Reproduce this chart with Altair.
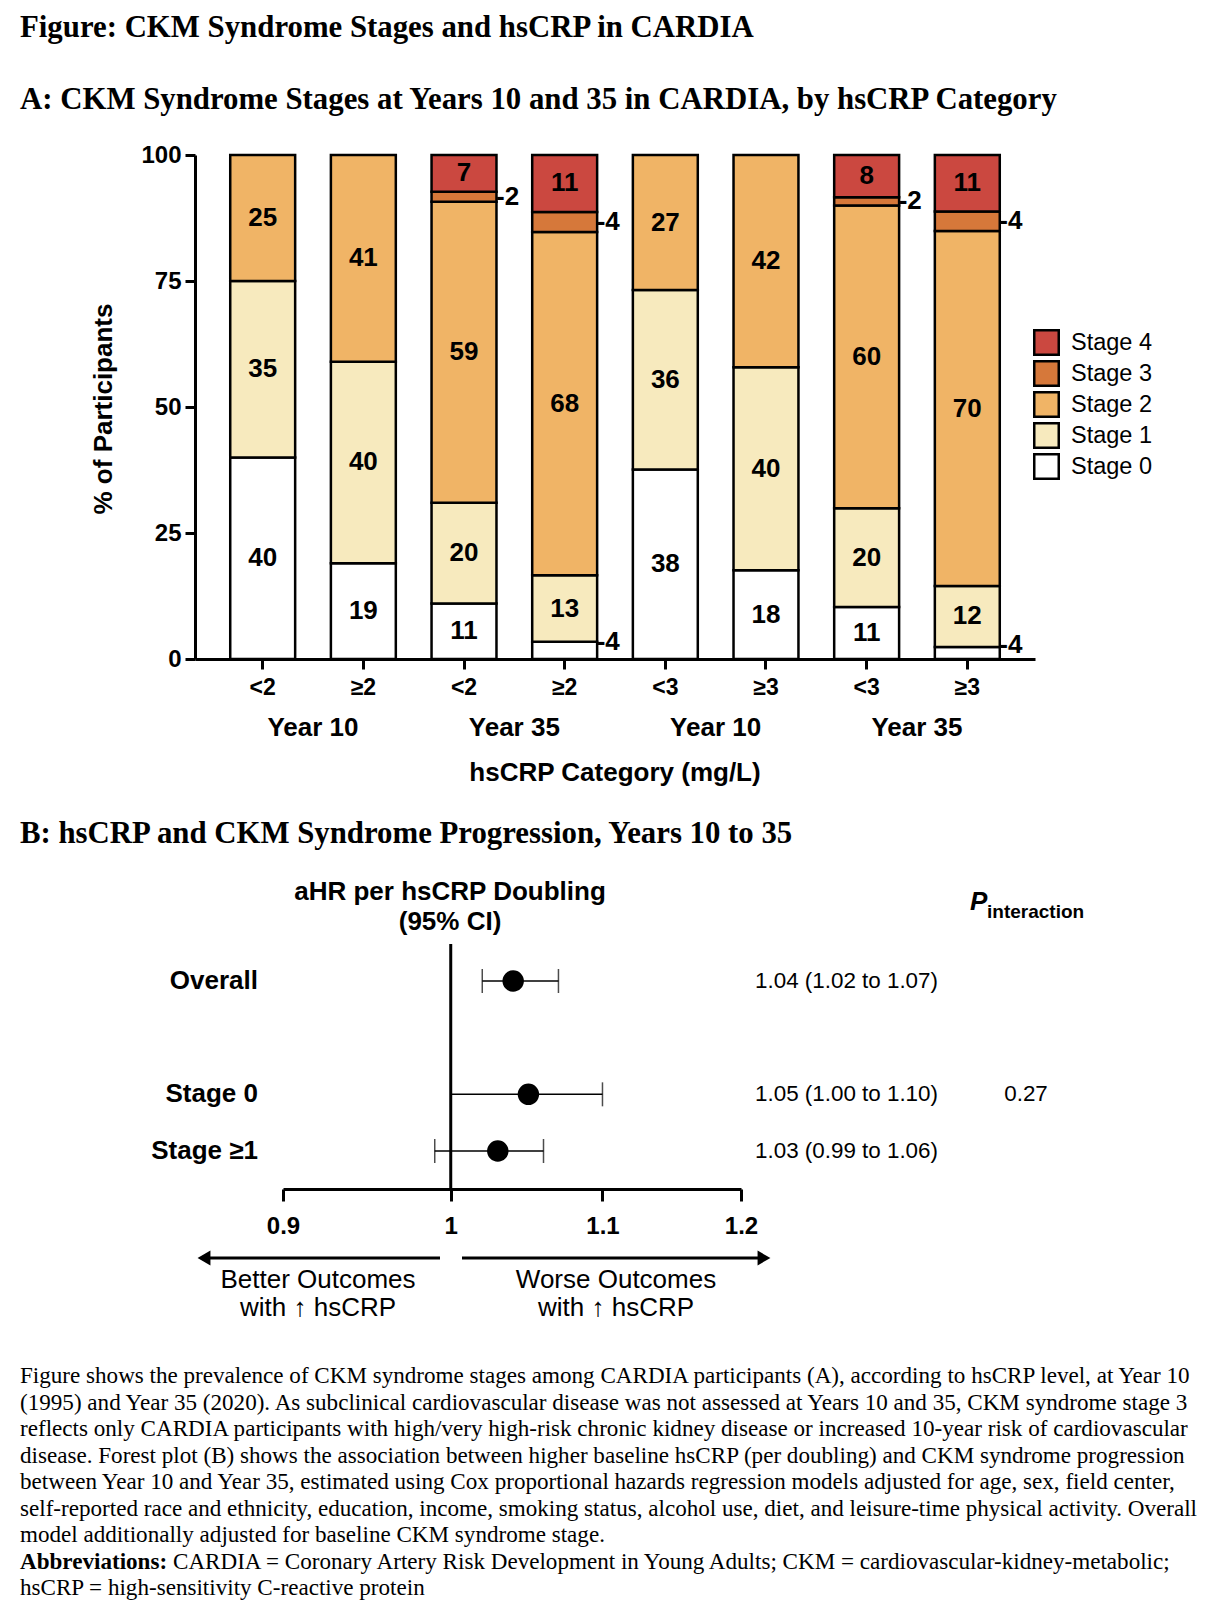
import altair as alt
import pandas as pd

SANS = "Liberation Sans"
SERIF = "Liberation Serif"

# ---------------- Panel A data ----------------
stage_names = ["Stage 0", "Stage 1", "Stage 2", "Stage 3", "Stage 4"]
stage_colors = ["#FFFFFF", "#F7EABE", "#F0B466", "#D6783A", "#CB4840"]
groups = ["Year 10", "Year 10", "Year 35", "Year 35", "Year 10", "Year 10", "Year 35", "Year 35"]
cats = ["<2", "≥2", "<2", "≥2", "<3", "≥3", "<3", "≥3"]
# segment heights (% of participants) per bar
stage0 = [40, 19, 11, 3.4, 37.6, 17.6, 10.3, 2.4]
stage1 = [35, 40, 20, 13.2, 35.6, 40.3, 19.6, 12.1]
stage2 = [25, 41, 59.7, 68.1, 26.8, 42.1, 60.1, 70.4]
stage3 = [0, 0, 2.0, 4.0, 0, 0, 1.6, 3.9]
stage4 = [0, 0, 7.3, 11.3, 0, 0, 8.4, 11.2]
# printed labels
lab0 = ["40", "19", "11", "4", "38", "18", "11", "4"]
lab1 = ["35", "40", "20", "13", "36", "40", "20", "12"]
lab2 = ["25", "41", "59", "68", "27", "42", "60", "70"]
lab3 = ["", "", "2", "4", "", "", "2", "4"]
lab4 = ["", "", "7", "11", "", "", "8", "11"]

keys = [f"{i}|{c}" for i, c in enumerate(cats)]
rows = []
for s, (vals, labs) in enumerate(zip([stage0, stage1, stage2, stage3, stage4],
                                      [lab0, lab1, lab2, lab3, lab4])):
    for i in range(len(cats)):
        if vals[i] > 0:
            rows.append({"key": keys[i], "stage": stage_names[s], "idx": s,
                         "value": vals[i], "label": labs[i]})
dfA = pd.DataFrame(rows)
dfG = pd.DataFrame({"key": [keys[i] for i in range(0, 8, 2)],
                    "group": [groups[i] for i in range(0, 8, 2)]})

# ---------------- Panel B data ----------------
fp_rows = ["Overall", "Stage 0", "Stage ≥1"]
fp_hr = [1.04, 1.05, 1.03]
fp_lo = [1.02, 1.00, 0.99]
fp_hi = [1.07, 1.10, 1.06]
fp_txt = ["1.04 (1.02 to 1.07)", "1.05 (1.00 to 1.10)", "1.03 (0.99 to 1.06)"]
fp_p = ["", "0.27", ""]
dfB = pd.DataFrame({"row": fp_rows, "hr": fp_hr, "lo": fp_lo, "hi": fp_hi,
                    "txt": fp_txt, "p": fp_p})

caption = [
    "Figure shows the prevalence of CKM syndrome stages among CARDIA participants (A), according to hsCRP level, at Year 10",
    "(1995) and Year 35 (2020). As subclinical cardiovascular disease was not assessed at Years 10 and 35, CKM syndrome stage 3",
    "reflects only CARDIA participants with high/very high-risk chronic kidney disease or increased 10-year risk of cardiovascular",
    "disease. Forest plot (B) shows the association between higher baseline hsCRP (per doubling) and CKM syndrome progression",
    "between Year 10 and Year 35, estimated using Cox proportional hazards regression models adjusted for age, sex, field center,",
    "self-reported race and ethnicity, education, income, smoking status, alcohol use, diet, and leisure-time physical activity. Overall",
    "model additionally adjusted for baseline CKM syndrome stage.",
]
abbr_bold = "Abbreviations:"
abbr_rest = "CARDIA = Coronary Artery Risk Development in Young Adults; CKM = cardiovascular-kidney-metabolic;"
abbr_last = "hsCRP = high-sensitivity C-reactive protein"

# ---------------- Panel A chart ----------------
xA_scale = alt.Scale(domain=keys, paddingInner=0.355, paddingOuter=0.35)
xA = alt.X("key:N", scale=xA_scale, sort=keys,
           axis=alt.Axis(labelExpr="split(datum.value, '|')[1]", labelAngle=0,
                         labelFont=SANS, labelFontSize=23, labelFontWeight="bold",
                         labelColor="black", tickSize=10, tickWidth=3, tickColor="black",
                         domainWidth=3, domainColor="black", labelPadding=7,
                         title=None, grid=False))
yA_scale = alt.Scale(domain=[0, 100], nice=False)
yA_axis = alt.Axis(values=[0, 25, 50, 75, 100], labelFont=SANS, labelFontSize=24,
                   labelFontWeight="bold", labelColor="black", tickSize=10, tickWidth=3,
                   tickColor="black", domainWidth=3, domainColor="black", labelPadding=4,
                   title=None, grid=False)

baseA = alt.Chart(dfA).transform_stack(
    stack="value", groupby=["key"], as_=["y0", "y1"],
    sort=[alt.SortField("idx", order="ascending")]
).transform_calculate(mid="(datum.y0 + datum.y1) / 2", lab2="'-' + datum.label")

bars = baseA.mark_bar(stroke="black", strokeWidth=2.5).encode(
    x=xA,
    y=alt.Y("y0:Q", scale=yA_scale, axis=yA_axis),
    y2="y1:Q",
    color=alt.Color("stage:N",
                    scale=alt.Scale(domain=stage_names[::-1], range=stage_colors[::-1]),
                    legend=alt.Legend(orient="none", legendX=838, legendY=174, title=None,
                                      symbolType="square", symbolSize=600,
                                      symbolStrokeColor="black", symbolStrokeWidth=2.5,
                                      labelFont=SANS, labelFontSize=23.5, labelColor="black",
                                      rowPadding=-4, padding=0, labelOffset=11)),
)

inside = baseA.transform_filter("datum.value >= 5").mark_text(
    font=SANS, fontSize=26, fontWeight="bold", color="black", baseline="middle"
).encode(x=alt.X("key:N", sort=keys), y=alt.Y("mid:Q"), text="label:N")

out3 = baseA.transform_filter("datum.value < 5 && datum.idx == 3").mark_text(
    font=SANS, fontSize=26, fontWeight="bold", color="black", baseline="middle",
    align="left", dx=32
).encode(x=alt.X("key:N", sort=keys), y=alt.Y("mid:Q"), text=alt.Text("lab2:N"))

out0 = baseA.transform_filter("datum.value < 5 && datum.idx == 0").mark_text(
    font=SANS, fontSize=26, fontWeight="bold", color="black", baseline="middle",
    align="left", dx=32, dy=-8
).encode(x=alt.X("key:N", sort=keys), y=alt.Y("mid:Q"), text=alt.Text("lab2:N"))

grp = alt.Chart(dfG).mark_text(
    font=SANS, fontSize=26, fontWeight="bold", color="black", baseline="middle", dx=50.3
).encode(x=alt.X("key:N", sort=keys), y=alt.value(573), text="group:N")

xtitle = alt.Chart(pd.DataFrame({"t": ["hsCRP Category (mg/L)"]})).mark_text(
    font=SANS, fontSize=26, fontWeight="bold", color="black", baseline="middle"
).encode(x=alt.value(420), y=alt.value(618), text="t:N")

ytitle = alt.Chart(pd.DataFrame({"t": ["% of Participants"]})).mark_text(
    font=SANS, fontSize=26, fontWeight="bold", color="black", baseline="middle", angle=270
).encode(x=alt.value(-91), y=alt.value(254), text="t:N")

panelA = alt.layer(bars, inside, out3, out0, grp, xtitle, ytitle)

# ---------------- Panel B chart ----------------
xB_scale = alt.Scale(type="log", domain=[0.9, 1.2], range=[88, 546], nice=False)
xB_axis = alt.Axis(orient="bottom", offset=530, values=[0.9, 1, 1.1, 1.2],
                   labelExpr="datum.value == 1 ? '1' : format(datum.value, '.1f')",
                   labelFont=SANS, labelFontSize=24, labelFontWeight="bold",
                   labelColor="black", tickSize=12, tickWidth=3, tickColor="black",
                   domainWidth=3, domainColor="black", labelPadding=13, title=None,
                   grid=False, labelFlush=False, labelOverlap=False)
yB_scale = alt.Scale(type="point", domain=["Overall", " ", "Stage 0", "Stage ≥1"],
                     range=[826, 996], padding=0)
baseB = alt.Chart(dfB)

refline = alt.Chart(pd.DataFrame({"x": [1.0]})).mark_rule(color="black", strokeWidth=3).encode(
    x=alt.X("x:Q", scale=xB_scale, axis=xB_axis), y=alt.value(789), y2=alt.value(1034))
err = baseB.mark_rule(color="black", strokeWidth=1.5).encode(
    x=alt.X("lo:Q", scale=xB_scale, axis=xB_axis), x2="hi:Q",
    y=alt.Y("row:N", scale=yB_scale, axis=None))
cap_lo = baseB.mark_tick(color="black", thickness=1.5, size=24, orient="vertical").encode(
    x=alt.X("lo:Q", scale=xB_scale, axis=xB_axis), y=alt.Y("row:N", scale=yB_scale, axis=None))
cap_hi = baseB.mark_tick(color="black", thickness=1.5, size=24, orient="vertical").encode(
    x=alt.X("hi:Q", scale=xB_scale, axis=xB_axis), y=alt.Y("row:N", scale=yB_scale, axis=None))
pts = baseB.mark_circle(color="black", opacity=1, size=460).encode(
    x=alt.X("hr:Q", scale=xB_scale, axis=xB_axis), y=alt.Y("row:N", scale=yB_scale, axis=None))
rowlab = baseB.mark_text(font=SANS, fontSize=26, fontWeight="bold", color="black",
                         align="right", baseline="middle").encode(
    x=alt.value(63), y=alt.Y("row:N", scale=yB_scale, axis=None), text="row:N")
valtxt = baseB.mark_text(font=SANS, fontSize=22.4, color="black",
                         align="left", baseline="middle").encode(
    x=alt.value(560), y=alt.Y("row:N", scale=yB_scale, axis=None), text="txt:N")
ptxt = baseB.mark_text(font=SANS, fontSize=22.4, color="black",
                       align="center", baseline="middle").encode(
    x=alt.value(831), y=alt.Y("row:N", scale=yB_scale, axis=None), text="p:N")

panelB = alt.layer(refline, err, cap_lo, cap_hi, pts, rowlab, valtxt, ptxt)

# ---------------- Decorations / text ----------------
one = pd.DataFrame({"a": [0]})

def txt(text, x, y, size, weight="normal", font=SANS, align="left", baseline="alphabetic",
        style="normal", lh=None):
    kw = dict(font=font, fontSize=size, fontWeight=weight, color="black", align=align,
              baseline=baseline, fontStyle=style)
    if lh:
        kw["lineHeight"] = lh
    return alt.Chart(one).mark_text(**kw).encode(x=alt.value(x), y=alt.value(y),
                                                 text=alt.value(text))

t_fig = txt("Figure: CKM Syndrome Stages and hsCRP in CARDIA", -175, -118, 30.8, "bold", SERIF)
t_A = txt("A: CKM Syndrome Stages at Years 10 and 35 in CARDIA, by hsCRP Category", -175, -46,
          30.8, "bold", SERIF)
t_B = txt("B: hsCRP and CKM Syndrome Progression, Years 10 to 35", -175, 688, 30.8, "bold", SERIF)
t_hdr = txt(["aHR per hsCRP Doubling", "(95% CI)"], 255, 745, 26, "bold", align="center", lh=30)
t_P = txt("P", 775, 755, 26, "bold", style="italic")
t_int = txt("interaction", 792, 763, 19, "bold")
t_better = txt(["Better Outcomes", "with ↑ hsCRP"], 123, 1133, 26, align="center", lh=28)
t_worse = txt(["Worse Outcomes", "with ↑ hsCRP"], 421, 1133, 26, align="center", lh=28)

arr_l = alt.Chart(one).mark_rule(color="black", strokeWidth=3).encode(
    x=alt.value(12), x2=alt.value(245), y=alt.value(1103))
arr_r = alt.Chart(one).mark_rule(color="black", strokeWidth=3).encode(
    x=alt.value(267), x2=alt.value(566), y=alt.value(1103))
head_l = alt.Chart(one).mark_point(shape="triangle-left", filled=True, color="black",
                                   opacity=1, size=220).encode(
    x=alt.value(9), y=alt.value(1103))
head_r = alt.Chart(one).mark_point(shape="triangle-right", filled=True, color="black",
                                   opacity=1, size=220).encode(
    x=alt.value(569), y=alt.value(1103))

LH = 26.5
t_cap = txt(caption, -175, 1228, 23.1, font=SERIF, lh=LH)
t_abbr = txt(abbr_bold, -175, 1228 + 7 * LH, 23.1, "bold", SERIF)
t_abbr2 = txt(abbr_rest, -22, 1228 + 7 * LH, 23.1, font=SERIF)
t_abbr3 = txt(abbr_last, -175, 1228 + 8 * LH, 23.1, font=SERIF)

decor = alt.layer(t_fig, t_A, t_B, t_hdr, t_P, t_int, t_better, t_worse,
                  arr_l, arr_r, head_l, head_r, t_cap, t_abbr, t_abbr2, t_abbr3)

chart = alt.layer(panelA, panelB, decor).resolve_scale(
    x="independent", y="independent"
).properties(
    width=840, height=504,
    autosize=alt.AutoSizeParams(type="none"),
    padding={"left": 187, "top": 147, "right": 181, "bottom": 943},
    background="white",
).configure_view(stroke=None)

chart.save("out.html", embed_options={"renderer": "svg", "actions": False})
